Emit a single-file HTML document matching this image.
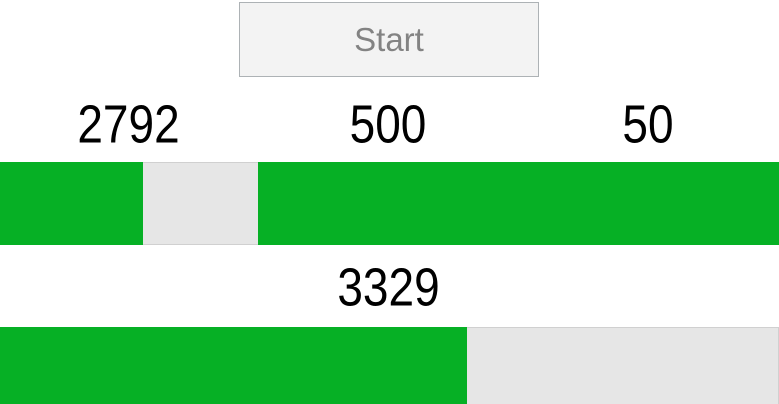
<!DOCTYPE html>
<html><head><meta charset="utf-8"><style>
html,body{margin:0;padding:0;background:#fff;width:779px;height:404px;overflow:hidden;font-family:"Liberation Sans",sans-serif;position:relative}
.btn{position:absolute;left:239px;top:2px;width:298px;height:73px;background:#f3f3f3;border:1px solid #adb2b5;color:#838383;font-size:33px;display:flex;align-items:center;justify-content:center;box-sizing:content-box}
.lbl{position:absolute;font-size:46px;color:#000;text-align:center;line-height:46px;transform:scaleY(1.17)}
.bar{position:absolute;background:#e6e6e6;border:1px solid #d0d0d0;box-sizing:border-box}
.fill{position:absolute;left:-1px;top:-1px;bottom:-1px;background:#06b025}
</style></head><body>
<div class="btn">Start</div>
<div id="root"></div>
<script>
const labels = ["2792", "500", "50", "3329"];
const values = [55.4, 100, 100, 60];
const boxes = [[0,162,259,83,125],[258,162,262,83,125],[519,162,260,83,125],[0,327,779,78,288]];
const names = ["progress-bar-1","progress-bar-2","progress-bar-3","progress-bar-total"];
const root = document.getElementById('root');
labels.forEach((t, i) => {
  const b = boxes[i];
  const l = document.createElement('div');
  l.className = 'lbl';
  
  
  l.style.left = (b[0] - 1) + 'px'; l.style.width = b[2] + 'px';
  l.style.top = (b[4] - 24) + 'px';
  l.textContent = t;
  root.appendChild(l);
  const bar = document.createElement('div');
  bar.className = 'bar';
  
  
  bar.style.left = b[0] + 'px'; bar.style.top = b[1] + 'px';
  bar.style.width = b[2] + 'px'; bar.style.height = b[3] + 'px';
  const f = document.createElement('div');
  f.className = 'fill';
  
  
  f.style.width = (values[i] / 100 * b[2]) + 'px';
  bar.appendChild(f);
  root.appendChild(bar);
});
</script>
</body></html>
